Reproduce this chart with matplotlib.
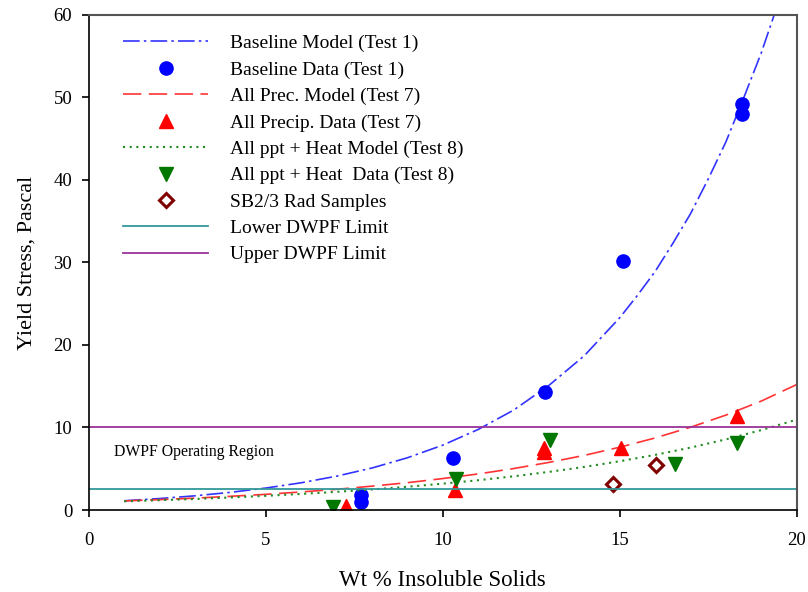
import numpy as np
import matplotlib
matplotlib.use("Agg")
from matplotlib import pyplot as plt

plt.rcParams['font.family'] = ['Liberation Serif', 'DejaVu Serif']

# model curves
model_x = [1, 2, 3, 4, 5, 6, 7, 8, 9, 10, 11, 12, 13, 14, 15, 15.5, 16, 16.5, 17, 17.5, 18, 18.5, 19, 19.5]
base_model = [1.12, 1.39, 1.72, 2.14, 2.66, 3.30, 4.10, 5.09, 6.33, 7.86, 9.76, 12.1, 15.1, 18.7, 23.3, 26.0, 28.9, 32.3, 35.9, 40.1, 44.6, 49.9, 55.4, 61.7]
prec_x = [1, 2, 3, 4, 5, 6, 7, 8, 9, 10, 11, 12, 13, 14, 15, 16, 17, 18, 19, 20]
prec_model = [1.10, 1.26, 1.44, 1.66, 1.90, 2.19, 2.51, 2.89, 3.31, 3.81, 4.37, 5.02, 5.77, 6.62, 7.61, 8.73, 10.03, 11.5, 13.2, 15.2]
heat_model = [1.05, 1.19, 1.34, 1.52, 1.72, 1.95, 2.20, 2.49, 2.82, 3.19, 3.61, 4.08, 4.62, 5.22, 5.91, 6.68, 7.56, 8.56, 9.68, 10.95]

# measured data
base_x = [7.7, 7.7, 10.3, 12.9, 15.1, 18.45, 18.45]
base_y = [1.0, 1.8, 6.3, 14.3, 30.2, 48.0, 49.2]
prec_dx = [7.26, 10.34, 12.85, 12.85, 15.03, 18.32]
prec_dy = [0.5, 2.4, 7.0, 7.5, 7.5, 11.4]
heat_dx = [6.9, 10.37, 13.04, 16.56, 18.3]
heat_dy = [0.4, 3.7, 8.5, 5.6, 8.1]
rad_x = [14.81, 16.02]
rad_y = [3.2, 5.5]

lower_limit = 2.5
upper_limit = 10

fig = plt.figure(figsize=(8.08, 5.92), dpi=100)
ax = fig.add_axes([0.110, 0.1385, 0.876, 0.8365])

ax.plot(model_x, base_model, color='#3333ff', lw=1.2, dashes=(10, 2.5, 1.5, 2.5), label='Baseline Model (Test 1)')
ax.plot(base_x, base_y, 'o', color='#0000ff', ms=9.5, ls='none', label='Baseline Data (Test 1)')
ax.plot(prec_x, prec_model, color='#ff3333', lw=1.2, dashes=(11, 4.5), label='All Prec. Model (Test 7)')
ax.plot(prec_dx, prec_dy, '^', color='#ff0000', ms=9.5, ls='none', label='All Precip. Data (Test 7)')
ax.plot(prec_x, heat_model, color='#228b22', lw=1.5, dashes=(1, 2.2), label='All ppt + Heat Model (Test 8)')
ax.plot(heat_dx, heat_dy, 'v', color='#007700', ms=9.5, ls='none', label='All ppt + Heat  Data (Test 8)')
ax.plot(rad_x, rad_y, 'D', mfc='white', mec='#800000', mew=2.2, ms=7, ls='none', label='SB2/3 Rad Samples')
ax.axhline(lower_limit, color='#339999', lw=1.3, label='Lower DWPF Limit')
ax.axhline(upper_limit, color='#993399', lw=1.3, label='Upper DWPF Limit')

ax.text(0.7, 7.0, 'DWPF Operating Region', fontsize=11.3, va='center')

ax.set_xlim(0, 20)
ax.set_ylim(0, 60)
ax.set_xticks([0, 5, 10, 15, 20])
ax.set_yticks([0, 10, 20, 30, 40, 50, 60])
ax.tick_params(direction='out', labelsize=13.5, length=5, width=1.2)
ax.tick_params(axis='x', pad=10.5)
ax.tick_params(axis='y', pad=7)
for s in ['top', 'right']:
    ax.spines[s].set_color('#555555')
    ax.spines[s].set_linewidth(1.5)
for s in ['left', 'bottom']:
    ax.spines[s].set_linewidth(1.2)

ax.set_xlabel('Wt % Insoluble Solids', fontsize=16.5, labelpad=15.5)
ax.set_ylabel('Yield Stress, Pascal', fontsize=16, labelpad=12.5)

ax.legend(loc='upper left', frameon=False, fontsize=14, handlelength=4.4,
          handletextpad=1.1, labelspacing=0.45, borderaxespad=0, borderpad=0,
          bbox_to_anchor=(0.048, 0.96))

plt.savefig('out.png', dpi=100)
plt.close()
